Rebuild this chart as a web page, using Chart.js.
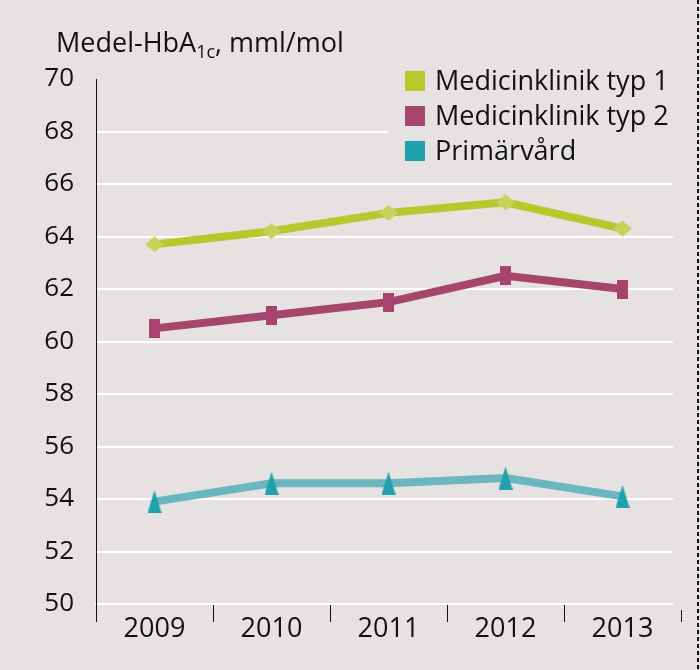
<!DOCTYPE html>
<html lang="sv">
<head>
<meta charset="UTF-8">
<title>Medel-HbA1c</title>
<script src="https://cdn.jsdelivr.net/npm/chart.js"></script>
<style>
  html, body { margin: 0; padding: 0; background: #e7e2e2; }
  #wrap { width: 700px; height: 670px; position: relative; }
</style>
</head>
<body>
<div id="wrap"><canvas id="hba1c" width="700" height="670"></canvas></div>
<script>
// data
const years = ['2009', '2010', '2011', '2012', '2013'];
const typ1 = [63.7, 64.2, 64.9, 65.3, 64.3];
const typ2 = [60.5, 61.0, 61.5, 62.5, 62.0];
const primarvard = [53.9, 54.6, 54.6, 54.8, 54.1];
const seriesNames = ['Medicinklinik typ 1', 'Medicinklinik typ 2', 'Primärvård'];
const yTicks = [50, 52, 54, 56, 58, 60, 62, 64, 66, 68, 70];

const BG = '#e7e2e2';
const FONT = '"Open Sans", "DejaVu Sans", sans-serif';

// little canvases used as point markers
function marker(w, h, color, shape) {
  const c = document.createElement('canvas');
  c.width = w; c.height = h;
  const g = c.getContext('2d');
  g.fillStyle = color;
  g.beginPath();
  if (shape === 'diamond') {
    g.moveTo(w / 2, 0); g.lineTo(w, h / 2); g.lineTo(w / 2, h); g.lineTo(0, h / 2);
  } else if (shape === 'triangle') {
    g.moveTo(w / 2, 0); g.lineTo(w, h); g.lineTo(0, h);
  } else {
    g.rect(0, 0, w, h);
  }
  g.closePath();
  g.fill();
  return c;
}

// title, legend box and the dashed right edge
const decor = {
  id: 'decor',
  beforeDatasetsDraw(chart) {
    const ctx = chart.ctx;
    ctx.save();
    ctx.fillStyle = BG;
    ctx.fillRect(388, 58, 300, 120);
    ctx.fillRect(673, 80, 10, 530);
    ctx.restore();
  },
  afterDraw(chart) {
    const ctx = chart.ctx;
    ctx.save();
    ctx.fillStyle = '#111';
    ctx.textBaseline = 'alphabetic';
    ctx.font = '27px ' + FONT;
    ctx.fillText('Medel-HbA', 56, 52);
    let x = 56 + ctx.measureText('Medel-HbA').width;
    ctx.font = '18px ' + FONT;
    ctx.fillText('1c', x, 58);
    x += ctx.measureText('1c').width;
    ctx.font = '27px ' + FONT;
    ctx.fillText(', mml/mol', x, 52);

    const colors = ['#b6c82c', '#a6466c', '#21a0ae'];
    ctx.font = '27px ' + FONT;
    ctx.textBaseline = 'middle';
    seriesNames.forEach((name, i) => {
      const cy = 81 + i * 35;
      ctx.fillStyle = colors[i];
      ctx.fillRect(405, cy - 10, 20, 20);
      ctx.fillStyle = '#111';
      ctx.fillText(name, 435, cy + 1);
    });

    ctx.strokeStyle = '#111';
    ctx.lineWidth = 2;
    ctx.setLineDash([4, 3]);
    ctx.beginPath();
    ctx.moveTo(698, 0);
    ctx.lineTo(698, 670);
    ctx.stroke();
    ctx.restore();
  }
};

new Chart(document.getElementById('hba1c'), {
  type: 'line',
  data: {
    labels: years,
    datasets: [
      {
        label: seriesNames[0], data: typ1,
        borderColor: '#b6c82c', borderWidth: 8,
        pointStyle: marker(19, 16, '#c5d35c', 'diamond')
      },
      {
        label: seriesNames[1], data: typ2,
        borderColor: '#a6466c', borderWidth: 8,
        pointStyle: marker(11, 19, '#a8436e', 'rect')
      },
      {
        label: seriesNames[2], data: primarvard,
        borderColor: '#6ab7c0', borderWidth: 8,
        pointStyle: marker(14, 23, '#21a0ae', 'triangle')
      }
    ]
  },
  options: {
    responsive: false,
    animation: false,
    devicePixelRatio: 1,
    layout: { padding: { top: 79, right: 19, left: 0, bottom: 0 } },
    plugins: { legend: { display: false }, tooltip: { enabled: false } },
    elements: { line: { tension: 0 }, point: { radius: 10 } },
    scales: {
      x: {
        offset: true,
        afterFit(s) { s.height = 66; },
        grid: {
          offset: true, drawOnChartArea: false, drawTicks: true,
          tickLength: 18, color: '#111', lineWidth: 1
        },
        border: { display: true, color: '#ffffff', width: 2 },
        ticks: { color: '#111', autoSkip: false, maxRotation: 0, font: { family: FONT, size: 27 }, padding: -9 }
      },
      y: {
        min: 50, max: 70,
        afterFit(s) { s.width = 96; },
        afterBuildTicks(s) { s.ticks = yTicks.map(v => ({ value: v })); },
        grid: {
          drawTicks: false,
          color: ctx => (ctx.tick && ctx.tick.value === 70) ? 'rgba(0,0,0,0)' : '#ffffff',
          lineWidth: 2
        },
        border: { display: true, color: '#111', width: 1 },
        ticks: { color: '#111', font: { family: FONT, size: 26 }, padding: 22 }
      }
    }
  },
  plugins: [decor]
});
</script>
</body>
</html>
